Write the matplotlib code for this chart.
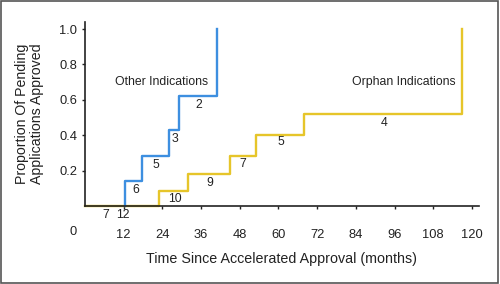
import matplotlib
matplotlib.use("Agg")
import matplotlib.pyplot as plt
from matplotlib.patches import Rectangle

plt.rcParams["font.family"] = ["Liberation Sans", "DejaVu Sans"]

# Kaplan-Meier style step data (months, cumulative proportion approved)
other_start = 12.5
other_times = [12.5, 17.8, 26.2, 29.0, 41.0]
other_props = [0.14, 0.28, 0.43, 0.62, 1.0]

orphan_start = 0.0
orphan_times = [22.8, 32.0, 45.0, 53.0, 68.0, 117.0]
orphan_props = [0.085, 0.18, 0.28, 0.40, 0.52, 1.0]

# number-at-risk labels placed along the curves
other_counts = ["6", "5", "3", "2"]
other_count_x = [15.7, 22.0, 27.8, 35.3]
other_count_y = [0.09, 0.23, 0.38, 0.57]

orphan_counts = ["10", "9", "7", "5", "4"]
orphan_count_x = [28.0, 38.7, 49.0, 60.6, 92.8]
orphan_count_y = [0.04, 0.13, 0.24, 0.36, 0.47]

base_counts = ["7", "12"]
base_count_x = [6.5, 11.6]

x_ticks = [12, 24, 36, 48, 60, 72, 84, 96, 108, 120]
y_ticks = [0.2, 0.4, 0.6, 0.8, 1.0]

blue = "#3d8fe0"
yellow = "#e6c52a"
ink = "#222222"

fig = plt.figure(figsize=(5.0, 2.84), dpi=100)
ax = fig.add_axes([0.17, 0.2746, 0.788, 0.648])

ax.step([orphan_start] + orphan_times, [0] + orphan_props, where="post",
        color=yellow, lw=1.7, clip_on=False)
ax.step([other_start] + other_times, [0] + other_props, where="post",
        color=blue, lw=1.7, clip_on=False)

for s, x, y in zip(other_counts, other_count_x, other_count_y):
    ax.text(x, y, s, ha="center", va="center", fontsize=8.8, color=ink)
for s, x, y in zip(orphan_counts, orphan_count_x, orphan_count_y):
    ax.text(x, y, s, ha="center", va="center", fontsize=8.8, color=ink)
for s, x in zip(base_counts, base_count_x):
    ax.text(x, -0.05, s, ha="center", va="center", fontsize=8.8, color=ink,
            clip_on=False)

ax.text(23.8, 0.70, "Other Indications", ha="center", va="center",
        fontsize=8.8, color=ink)
ax.text(98.8, 0.70, "Orphan Indications", ha="center", va="center",
        fontsize=8.8, color=ink)

ax.set_xlim(0, 122.2)
ax.set_ylim(0, 1.04)
ax.set_xticks(x_ticks)
ax.set_xticklabels([str(t) for t in x_ticks])
ax.set_yticks(y_ticks)
ax.set_yticklabels(["%.1f" % t for t in y_ticks])
ax.annotate("0", xy=(0, 0), xytext=(-12, -26), textcoords="offset pixels",
            ha="center", va="center", fontsize=9.3, color=ink,
            annotation_clip=False)

ax.tick_params(axis="x", direction="out", length=2.5, width=1, pad=14,
               labelsize=9.3, colors=ink)
ax.tick_params(axis="y", direction="out", length=2.5, width=1, pad=3,
               labelsize=9.3, colors=ink)

for side in ["top", "right"]:
    ax.spines[side].set_visible(False)
for side in ["left", "bottom"]:
    ax.spines[side].set_color(ink)
    ax.spines[side].set_linewidth(1.2)

ax.set_xlabel("Time Since Accelerated Approval (months)", fontsize=10.3,
              color=ink)
ax.xaxis.set_label_coords(0.5, -0.25)
ax.set_ylabel("Proportion Of Pending\nApplications Approved", fontsize=10.2,
              color=ink, va="center", linespacing=1.1)
ax.yaxis.set_label_coords(-0.14, 0.5)

fig.patches.append(Rectangle((0.002, 0.003), 0.994, 0.992,
                             transform=fig.transFigure, fill=False,
                             edgecolor="#555555", lw=1.2))

fig.savefig("out.png", dpi=100)
